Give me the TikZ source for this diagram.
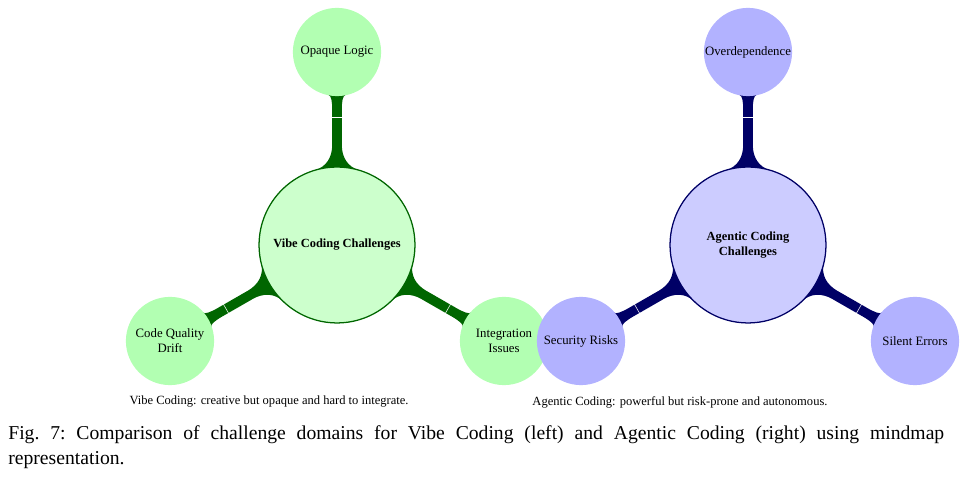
\documentclass[tikz,border=0pt]{standalone}
\usepackage{fontspec}
\setmainfont{Liberation Serif}
\usetikzlibrary{calc,backgrounds}
\colorlet{vibedark}{green!40!black}
\colorlet{agentdark}{blue!40!black}
\tikzstyle{hub} = [circle, minimum size=3.04cm, inner sep=0pt, line width=0.7pt, font=\fontsize{6.9}{8}\selectfont\bfseries]
\tikzstyle{leaf} = [circle, minimum size=1.72cm, inner sep=0pt, font=\fontsize{7.1}{8.2}\selectfont]
% tapered bar from a hub to one of its leaves
\tikzstyle{conbar} = [to path={
  let \p1=(\tikztostart), \p2=(\tikztotarget), \n1={atan2(\y2-\y1,\x2-\x1)} in
  ($(\p1)+(\n1:60)$)
  -- ($(\p1)+(\n1:74.8)+({\n1+90}:22)$)
  .. controls ($(\p1)+(\n1:78.2)+({\n1+90}:10.5)$) and ($(\p1)+(\n1:88)+({\n1+90}:4.8)$) .. ($(\p1)+(\n1:100)+({\n1+90}:4.8)$)
  -- ($(\p1)+(\n1:135)+({\n1+90}:4.8)$)
  .. controls ($(\p1)+(\n1:143)+({\n1+90}:4.8)$) and ($(\p1)+(\n1:149.4)+({\n1+90}:5.6)$) .. ($(\p1)+(\n1:150)+({\n1+90}:8.5)$)
  -- ($(\p1)+(\n1:165)$)
  -- ($(\p1)+(\n1:150)+({\n1-90}:8.5)$)
  .. controls ($(\p1)+(\n1:149.4)+({\n1-90}:5.6)$) and ($(\p1)+(\n1:143)+({\n1-90}:4.8)$) .. ($(\p1)+(\n1:135)+({\n1-90}:4.8)$)
  -- ($(\p1)+(\n1:100)+({\n1-90}:4.8)$)
  .. controls ($(\p1)+(\n1:88)+({\n1-90}:4.8)$) and ($(\p1)+(\n1:78.2)+({\n1-90}:10.5)$) .. ($(\p1)+(\n1:74.8)+({\n1-90}:22)$)
  -- cycle}]
\tikzstyle{conmark} = [to path={
  let \p1=(\tikztostart), \p2=(\tikztotarget), \n1={atan2(\y2-\y1,\x2-\x1)} in
  ($(\p1)+(\n1:128)+({\n1+90}:6)$) -- ($(\p1)+(\n1:128)+({\n1-90}:6)$)}]

\begin{document}
\begin{tikzpicture}
  [x=0.0195cm,y=0.0195cm,every node/.style={align=center}]
  \useasboundingbox (0,0) rectangle (964,478);

  % vibe coding
  \node (vibe) [hub, fill=green!20, draw=vibedark] at (337,233) {Vibe Coding Challenges};
  \node (opaque) [leaf, fill=green!30] at (337,426) {Opaque Logic};
  \node (drift) [leaf, fill=green!30] at (170,137) {Code Quality\\Drift};
  \node (integ) [leaf, fill=green!30] at (504,137) {Integration\\Issues};

  % agentic coding
  \node (agent) [hub, fill=blue!20, draw=agentdark] at (748,233) {Agentic Coding\\Challenges};
  \node (overdep) [leaf, fill=blue!30] at (748,426) {Overdependence};
  \node (secrisk) [leaf, fill=blue!30] at (581,137) {Security Risks};
  \node (silent) [leaf, fill=blue!30] at (915,137) {Silent Errors};

  \begin{pgfonlayer}{background}
    \foreach \leaf in {opaque,drift,integ} {
      \fill [vibedark] (vibe) to[conbar] (\leaf);
      \draw [white, line width=0.3pt] (vibe) to[conmark] (\leaf);
    }
    \foreach \leaf in {overdep,secrisk,silent} {
      \fill [agentdark] (agent) to[conbar] (\leaf);
      \draw [white, line width=0.3pt] (agent) to[conmark] (\leaf);
    }
  \end{pgfonlayer}

  \node (vibecap) [font=\fontsize{6.95}{8}\selectfont] at (269,76) {Vibe Coding: creative but opaque and hard to integrate.};
  \node (agentcap) [font=\fontsize{6.95}{8}\selectfont] at (680,76) {Agentic Coding: powerful but risk-prone and autonomous.};

  \node (figcap) [anchor=north west, inner sep=0pt, text width=18.25cm, align=justify, font=\fontsize{10.9}{13.8}\selectfont\frenchspacing] at (8,53)
    {Fig. 7: Comparison of challenge domains for Vibe Coding (left) and Agentic Coding (right) using mindmap\linebreak representation.};
\end{tikzpicture}
\end{document}
